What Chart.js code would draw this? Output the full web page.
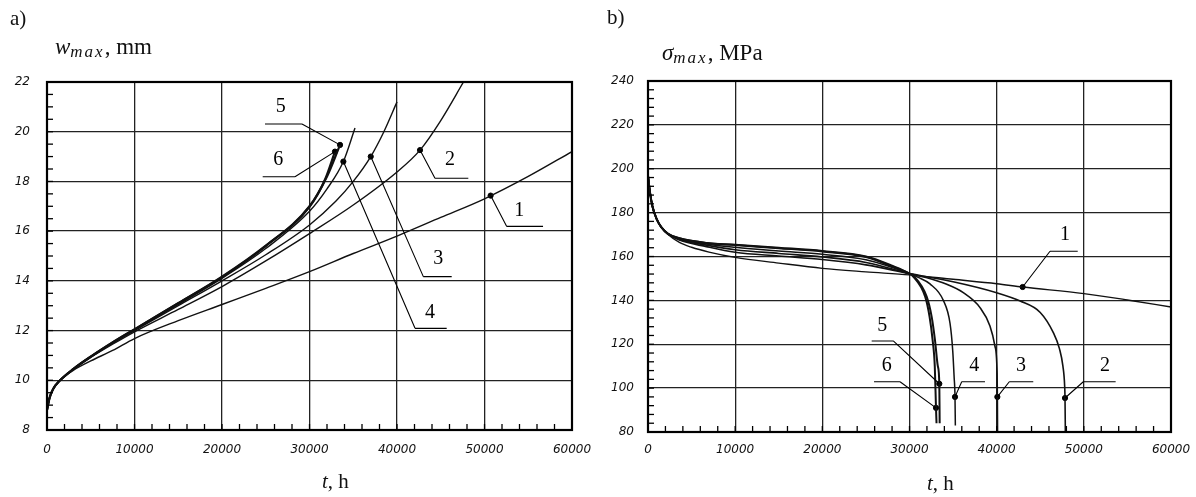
<!DOCTYPE html>
<html><head><meta charset="utf-8">
<script src="https://cdn.jsdelivr.net/npm/chart.js@4.4.1/dist/chart.umd.min.js"></script>
<style>
html,body{margin:0;padding:0;background:#fff;}
#wrap{position:relative;width:1196px;height:497px;overflow:hidden;background:#fff;}
canvas{position:absolute;top:0;}
.t{position:absolute;font-family:"Liberation Serif","DejaVu Serif",serif;color:#111;white-space:nowrap;line-height:1;}
.t sub{font-size:17px;letter-spacing:2px;vertical-align:-3px;font-style:italic;}
</style></head>
<body><div id="wrap">
<canvas id="ca" width="598" height="497" style="left:0"></canvas>
<canvas id="cb" width="598" height="497" style="left:598px"></canvas>
<div class="t" style="left:10px;top:8px;font-size:21px">a)</div>
<div class="t" style="left:607px;top:7px;font-size:21px">b)</div>
<div class="t" style="left:55px;top:35px;font-size:23px"><i>w</i><sub>max</sub>, mm</div>
<div class="t" style="left:662px;top:41px;font-size:23px"><i>σ</i><sub>max</sub>, MPa</div>
<div class="t" style="left:322px;top:471px;font-size:21px"><i>t</i>, h</div>
<div class="t" style="left:927px;top:473px;font-size:21px"><i>t</i>, h</div>
</div>
<script>
// ---------- panel a: deflection w_max (mm) vs t (h) ----------
const aT1=[0,300,700,1500,3000,5000,7500,10000,15000,20000,25000,30000,35000,40000,45000,50000,55000,60000];
const aW1=[8.8,9.3,9.65,10.0,10.4,10.78,11.2,11.68,12.4,13.05,13.7,14.37,15.1,15.8,16.55,17.3,18.2,19.2];
const aT2=[0,300,700,1500,3000,5000,7500,10000,15000,20000,25000,30000,35000,40000,42630,45000,47600];
const aW2=[8.8,9.3,9.65,10.0,10.45,10.92,11.45,11.95,12.85,13.77,14.8,15.9,17.05,18.38,19.26,20.45,22.0];
const aT3=[0,300,700,1500,3000,5000,7500,10000,15000,20000,25000,30000,33000,35000,37000,38500,40000];
const aW3=[8.8,9.3,9.65,10.0,10.45,10.95,11.5,12.0,13.0,14.0,15.05,16.25,17.2,18.0,19.0,20.0,21.2];
const aT4=[0,300,700,1500,3000,5000,7500,10000,15000,20000,25000,30000,32000,33870,35200];
const aW4=[8.8,9.3,9.65,10.0,10.45,10.95,11.5,12.03,13.05,14.1,15.3,16.8,17.7,18.8,20.15];
const aT5=[0,300,700,1500,3000,5000,7500,10000,15000,20000,25000,30000,32000,33490];
const aW5=[8.8,9.3,9.65,10.0,10.45,10.95,11.52,12.05,13.1,14.15,15.4,17.0,18.2,19.47];
const aT6=[0,300,700,1500,3000,5000,7500,10000,15000,20000,25000,30000,31800,32910];
const aW6=[8.8,9.3,9.65,10.0,10.45,10.95,11.52,12.05,13.1,14.17,15.42,16.98,18.1,19.2];
const aMarkT=[50700,42630,37000,33870,33490,32910];
const aMarkW=[17.43,19.26,19.0,18.8,19.47,19.2];
const labelNames=['1','2','3','4','5','6'];
const aLabT=[53980,46060,44720,43770,26710,26430];
const aLabW=[16.82,18.86,14.87,12.70,21.0,18.86];
const aUndT1=[52540,44340,43010,42060,24910,24650];
const aUndT2=[56690,48150,46250,45680,29140,28340];
const aUndW=[16.19,18.13,14.17,12.09,20.31,18.19];
const aLeadT=[52540,44340,43010,42060,29140,28340];

// ---------- panel b: stress sigma_max (MPa) vs t (h) ----------
const bT1=[0,200,500,1000,1500,2300,3600,5000,7000,10000,15000,20000,25000,30000,35000,40000,43000,50000,55000,60000];
const bS1=[197,190,183,177,173.5,170,166.4,164.2,162,159.6,157,154.6,153,151.6,149.6,147.6,146.1,143.1,140.2,137];
const bT2=[0,200,500,1000,1500,2300,3600,6700,10000,15000,20000,25000,30000,35000,40000,42700,45000,46500,47200,47600,47800,47840,47880];
const bS2=[197,190,183,177,173.5,170.3,167.5,164.5,161.9,160.2,158.6,156.2,152.2,148.5,143.5,139.7,134.5,125.3,118,110,101,95.5,80];
const bT3=[0,200,500,1000,1500,2300,3600,6700,10000,15000,20000,25000,30000,32000,34270,36170,38090,39230,39800,40050,40080,40100];
const bS3=[197,190,183,177,173.5,170.3,167.8,165.2,163.1,161.4,159.8,157.3,152.2,150.3,147.3,143.5,136.7,128.3,119.2,107,96,80];
const bT4=[0,200,500,1000,1500,2300,3600,6700,10000,15000,20000,25000,30000,31000,32350,33880,34650,34960,35120,35220,35260];
const bS4=[197,190,183,177,173.5,170.3,168,165.7,164.2,162.5,161,158.5,152.2,150.5,147.5,140,129.5,117,105,96,83];
const bT5=[0,200,500,1000,1500,2300,3600,6700,10000,15000,20000,25000,28000,30000,30500,31970,32540,32920,33250,33420,33460];
const bS5=[197,190,183,177,173.5,170.3,168.3,166.2,165.2,163.8,162.3,159.8,155.5,152.2,151,141.7,132.6,122,110,102,84];
const bT6=[0,200,500,1000,1500,2300,3600,6700,10000,15000,20000,25000,28000,30000,30400,31800,32300,32650,32900,33040,33100];
const bS6=[197,190,183,177,173.5,170.3,168.3,166.2,165.4,164,162.5,160,155.8,152.2,151,141.7,132.6,122,110,91,84];
const bMarkT=[42980,47840,40080,35220,33420,33040];
const bMarkS=[146.1,95.5,96,96,102,91];
const bLabT=[47840,52430,42790,37430,26880,27380];
const bLabS=[170,110.1,110.1,110.1,128.6,110.1];
const bUndT1=[46120,49940,41450,35990,25660,25930];
const bUndT2=[49300,53650,44200,38660,28140,28910];
const bUndS=[162.4,102.9,102.9,102.9,121.5,102.9];
const bLeadT=[46120,49940,41450,35990,28140,28910];

const pts=(xs,ys)=>xs.map((v,i)=>({x:v,y:ys[i]}));

function makeDeco(cfg){
  return {
    id:'deco',
    afterDraw(chart){
      const ctx=chart.ctx, a=chart.chartArea, x=chart.scales.x, y=chart.scales.y;
      ctx.save();
      ctx.strokeStyle='#000';
      ctx.lineWidth=1.3;
      for(let v=x.min; v<=x.max+1e-6; v+=cfg.xMinor){
        const p=x.getPixelForValue(v);
        ctx.beginPath(); ctx.moveTo(p,a.bottom); ctx.lineTo(p,a.bottom-6); ctx.stroke();
      }
      for(let v=y.min; v<=y.max+1e-6; v+=cfg.yMinor){
        const p=y.getPixelForValue(v);
        ctx.beginPath(); ctx.moveTo(a.left,p); ctx.lineTo(a.left+6,p); ctx.stroke();
      }
      ctx.lineWidth=2.2;
      ctx.strokeRect(a.left,a.top,a.right-a.left,a.bottom-a.top);
      ctx.lineWidth=1.1;
      ctx.fillStyle='#000';
      ctx.font='20px "Liberation Serif", "DejaVu Serif", serif';
      ctx.textAlign='center'; ctx.textBaseline='middle';
      for(let i=0;i<labelNames.length;i++){
        const uy=y.getPixelForValue(cfg.uy[i]);
        ctx.beginPath();
        ctx.moveTo(x.getPixelForValue(cfg.u1[i]),uy);
        ctx.lineTo(x.getPixelForValue(cfg.u2[i]),uy);
        ctx.moveTo(x.getPixelForValue(cfg.lead[i]),uy);
        ctx.lineTo(x.getPixelForValue(cfg.mx[i]),y.getPixelForValue(cfg.my[i]));
        ctx.stroke();
        ctx.fillText(labelNames[i],x.getPixelForValue(cfg.tx[i]),y.getPixelForValue(cfg.ty[i]));
      }
      ctx.restore();
    }
  };
}

const tickFont={family:'"DejaVu Sans", sans-serif',style:'italic',size:12};

function lineDs(xs,ys,w){
  return {type:'line',data:pts(xs,ys),borderColor:'#111',borderWidth:w,pointRadius:0,
    cubicInterpolationMode:'monotone',fill:false};
}

function makeChart(id,series,marks,yMin,yMax,yStep,yWidth,pad,xPad,yPad,deco){
  const datasets=series.map(s=>lineDs(s[0],s[1],s[2]));
  datasets.push({type:'scatter',data:pts(marks[0],marks[1]),pointRadius:2.6,
    pointBackgroundColor:'#000',pointBorderColor:'#000',showLine:false});
  return new Chart(document.getElementById(id),{
    data:{datasets},
    options:{
      responsive:false,animation:false,events:[],
      layout:{padding:pad},
      plugins:{legend:{display:false},tooltip:{enabled:false}},
      scales:{
        x:{type:'linear',min:0,max:60000,
          ticks:{stepSize:10000,font:tickFont,color:'#111',padding:xPad,maxRotation:0,
            callback:v=>String(v)},
          grid:{color:'#222',lineWidth:1.3,drawTicks:false},
          border:{display:true,color:'#000',width:2},
          afterFit:s=>{s.height=30;s.paddingLeft=0;s.paddingRight=0;}},
        y:{type:'linear',min:yMin,max:yMax,
          ticks:{stepSize:yStep,font:tickFont,color:'#111',padding:yPad,callback:v=>String(v)},
          grid:{color:'#222',lineWidth:1.3,drawTicks:false},
          border:{display:true,color:'#000',width:2},
          afterFit:s=>{s.width=yWidth;s.paddingTop=0;s.paddingBottom=0;}}
      }
    },
    plugins:[deco]
  });
}

makeChart('ca',
  [[aT1,aW1,1.4],[aT2,aW2,1.4],[aT3,aW3,1.4],[aT4,aW4,1.4],[aT5,aW5,2.2],[aT6,aW6,2.2]],
  [aMarkT,aMarkW],8,22,2,47,{left:0,top:82,right:26,bottom:37},13,17,
  makeDeco({xMinor:2000,yMinor:0.5,tx:aLabT,ty:aLabW,u1:aUndT1,u2:aUndT2,uy:aUndW,lead:aLeadT,mx:aMarkT,my:aMarkW}));

makeChart('cb',
  [[bT1,bS1,1.4],[bT2,bS2,1.6],[bT3,bS3,1.6],[bT4,bS4,1.5],[bT5,bS5,2.0],[bT6,bS6,2.0]],
  [bMarkT,bMarkS],80,240,20,50,{left:0,top:81,right:25,bottom:35},11,14,
  makeDeco({xMinor:2000,yMinor:4,tx:bLabT,ty:bLabS,u1:bUndT1,u2:bUndT2,uy:bUndS,lead:bLeadT,mx:bMarkT,my:bMarkS}));
</script>
</body></html>
